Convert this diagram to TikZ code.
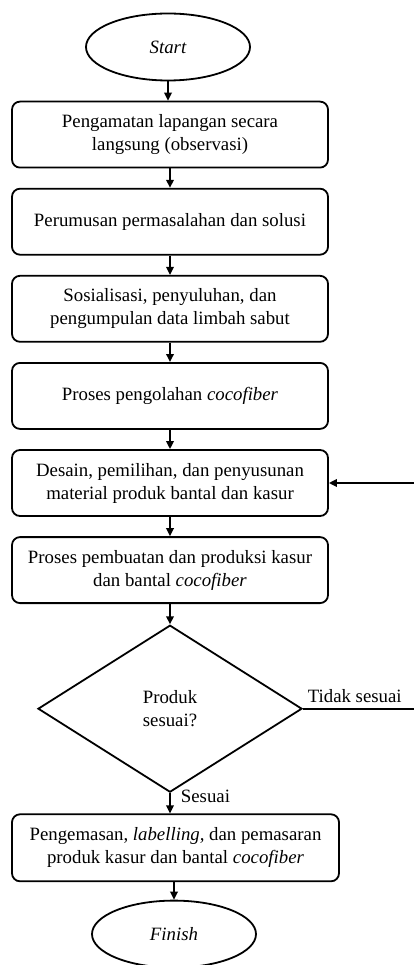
\documentclass[tikz,border=0pt]{standalone}
\usepackage{fontspec}
\setmainfont{Liberation Serif}
\usetikzlibrary{arrows.meta, positioning, shapes.geometric}

\begin{document}
\begin{tikzpicture}[
  x=1pt, y=1pt,
  node distance=19.3pt,
  line width=1.8pt,
  tnode/.style={rectangle, draw, rounded corners=8pt, minimum width=316pt,
                minimum height=66pt, align=center, inner sep=2pt,
                font=\fontsize{18.8}{23}\selectfont},
  cnode/.style={diamond, draw, minimum width=264pt, minimum height=167pt,
                inner sep=0pt, align=center, font=\fontsize{18.8}{23}\selectfont},
  onode/.style={ellipse, draw, minimum width=164pt, minimum height=67pt,
                inner sep=0pt, font=\fontsize{18.8}{23}\selectfont\itshape},
  arrow/.style={-{Triangle[length=8pt, width=7.5pt]}, line width=1.8pt},
  lbl/.style={font=\fontsize{18.8}{23}\selectfont, inner sep=2pt},
]
\useasboundingbox (0,0) rectangle (414,-965);

% ---- nodes ----
\node[onode] (start) at (168,-47) {Start};

\node[tnode, below=of start, xshift=2pt] (observe) {Pengamatan lapangan secara\\langsung (observasi)};

\node[tnode, below=of observe] (problem) {Perumusan permasalahan dan solusi};

\node[tnode, below=of problem] (social) {Sosialisasi, penyuluhan, dan\\pengumpulan data limbah sabut};

\node[tnode, below=of social] (process) {Proses pengolahan \textit{cocofiber}};

\node[tnode, below=of process] (design) {Desain, pemilihan, dan penyusunan\\material produk bantal dan kasur};

\node[tnode, below=of design] (produce) {Proses pembuatan dan produksi kasur\\dan bantal \textit{cocofiber}};

\node[cnode, below=20.3pt of produce] (check) {Produk\\sesuai?};

\node[tnode, minimum width=327pt, minimum height=67pt, below=20.3pt of check, xshift=5.5pt] (pack)
  {Pengemasan, \textit{labelling,} dan pemasaran\\produk kasur dan bantal \textit{cocofiber}};

\node[onode, below=17.5pt of pack, xshift=-1.5pt] (finish) {Finish};

\coordinate (loop) at (418,-600);

% ---- connectors ----
\draw[arrow] (start)   -- (start.south |- observe.north);
\draw[arrow] (observe) -- (problem);
\draw[arrow] (problem) -- (social);
\draw[arrow] (social)  -- (process);
\draw[arrow] (process) -- (design);
\draw[arrow] (design)  -- (produce);
\draw[arrow] (produce) -- (check);
\draw[arrow] (check.south) -- node[lbl, pos=0.15, right=8pt] {Sesuai} (check.south |- pack.north);
\draw[arrow] (pack.south -| finish) -- (finish);
\draw[arrow] (check.east) -- node[lbl, pos=0, anchor=south west, xshift=2pt, yshift=3pt] {Tidak sesuai}
  (check.east -| loop) |- (design.east);

\end{tikzpicture}
\end{document}
